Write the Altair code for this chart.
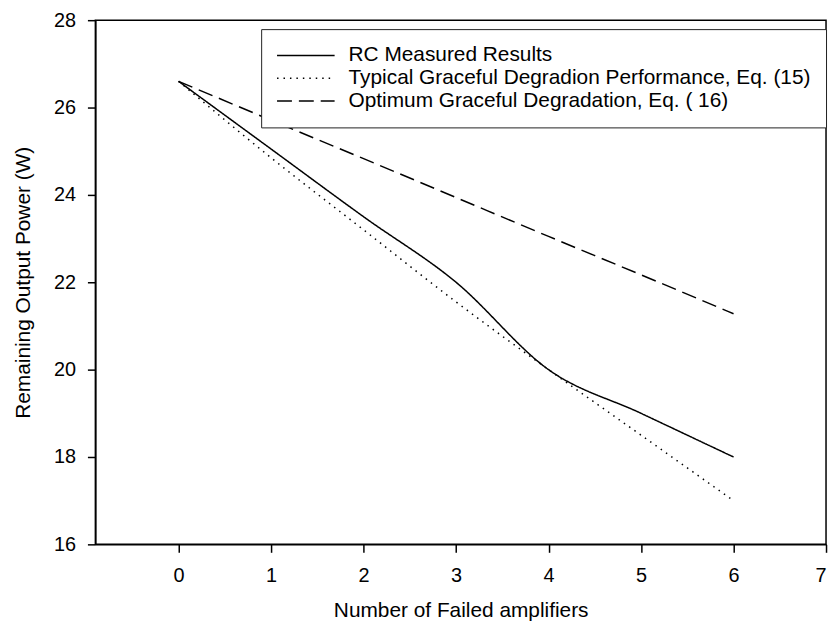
import altair as alt
import pandas as pd

failed = [0, 1, 2, 3, 4, 5, 6]
rc_measured = [26.6, 25.05, 23.5, 22.0, 20.0, 19.0, 18.0]
typical = [26.6, 24.85, 23.2, 21.55, 20.0, 18.5, 17.0]
optimum = [26.6, 25.71, 24.83, 23.94, 23.05, 22.17, 21.28]
series_names = [
    "RC Measured Results",
    "Typical Graceful Degradion Performance, Eq. (15)",
    "Optimum Graceful Degradation,  Eq. ( 16)",
]
x_ticks = [0, 1, 2, 3, 4, 5, 6, 7]
y_ticks = [16, 18, 20, 22, 24, 26, 28]

rows = []
for name, vals in zip(series_names, [rc_measured, typical, optimum]):
    for xv, yv in zip(failed, vals):
        rows.append({"n": xv, "p": yv, "series": name})
df = pd.DataFrame(rows)

FONT = "Liberation Sans"

chart = alt.Chart(df).mark_line(
    color="black", strokeWidth=1.5, interpolate="monotone"
).encode(
    x=alt.X("n:Q", scale=alt.Scale(domain=[-0.9, 7], nice=False, zero=False),
            axis=alt.Axis(title="Number of Failed amplifiers", values=x_ticks,
                          format="d", grid=False, tickSize=8, labelPadding=13,
                          titlePadding=15)),
    y=alt.Y("p:Q", scale=alt.Scale(domain=[16, 28], nice=False, zero=False),
            axis=alt.Axis(title="Remaining Output Power (W)", values=y_ticks,
                          format="d", grid=False, tickSize=8, labelPadding=12,
                          titlePadding=20)),
    strokeDash=alt.StrokeDash(
        "series:N",
        scale=alt.Scale(domain=series_names, range=[[1, 0], [1.5, 5], [15, 7]]),
        sort=series_names,
        legend=alt.Legend(
            title=None, orient="none", legendX=167, legendY=9,
            symbolType="stroke", symbolSize=3364, symbolStrokeWidth=1.5,
            symbolStrokeColor="black", labelFont=FONT, labelFontSize=21,
            labelColor="black", labelOffset=13, labelLimit=1000,
            clipHeight=23, rowPadding=0,
            padding=15, strokeColor="#222222", fillColor="white",
        ),
    ),
    detail="series:N",
).properties(
    width=736, height=528,
    background="white",
    autosize=alt.AutoSizeParams(type="none"),
    padding={"left": 88, "top": 10, "right": 4, "bottom": 84},
).configure_view(
    stroke="black", strokeWidth=1.5
).configure_axis(
    domainColor="black", domainWidth=1.5, tickColor="black", tickWidth=1.5,
    labelFont=FONT, labelFontSize=20, labelColor="black",
    titleFont=FONT, titleFontSize=21, titleFontWeight="normal", titleColor="black",
)

chart.save("out.html", embed_options={"renderer": "svg", "actions": False})
